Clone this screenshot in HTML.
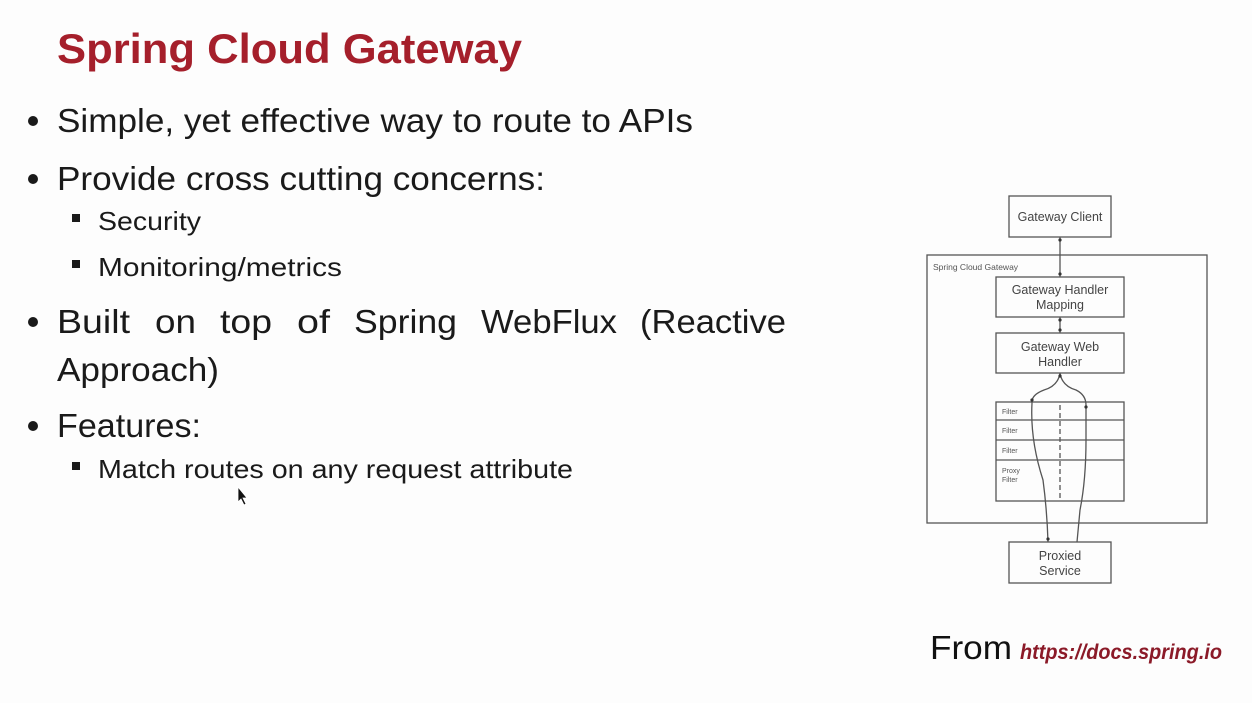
<!DOCTYPE html>
<html><head><meta charset="utf-8"><style>
html,body{margin:0;padding:0;background:#fdfdfd;}
svg{display:block;}
</style></head><body>
<svg width="1252" height="703" viewBox="0 0 1252 703" xmlns="http://www.w3.org/2000/svg" font-family="Liberation Sans, sans-serif">
<rect width="1252" height="703" fill="#fdfdfd"/>
<text x="57" y="63" font-size="42" font-weight="bold" fill="#a51f2b" textLength="465" lengthAdjust="spacingAndGlyphs">Spring Cloud Gateway</text>
<g fill="#1a1a1a" font-size="33">
<circle cx="33" cy="121" r="5"/>
<text x="57" y="132" textLength="636" lengthAdjust="spacingAndGlyphs">Simple, yet effective way to route to APIs</text>
<circle cx="33" cy="179" r="5"/>
<text x="57" y="190" textLength="488" lengthAdjust="spacingAndGlyphs">Provide cross cutting concerns:</text>
<circle cx="33" cy="322" r="5"/>
<text x="57" y="333" textLength="73" lengthAdjust="spacingAndGlyphs">Built</text>
<text x="155" y="333" textLength="41" lengthAdjust="spacingAndGlyphs">on</text>
<text x="220" y="333" textLength="52" lengthAdjust="spacingAndGlyphs">top</text>
<text x="297" y="333" textLength="33" lengthAdjust="spacingAndGlyphs">of</text>
<text x="354" y="333" textLength="103" lengthAdjust="spacingAndGlyphs">Spring</text>
<text x="481" y="333" textLength="136" lengthAdjust="spacingAndGlyphs">WebFlux</text>
<text x="640" y="333" textLength="146" lengthAdjust="spacingAndGlyphs">(Reactive</text>
<text x="57" y="381" textLength="162" lengthAdjust="spacingAndGlyphs">Approach)</text>
<circle cx="33" cy="426" r="5"/>
<text x="57" y="437" textLength="144" lengthAdjust="spacingAndGlyphs">Features:</text>
</g>
<g fill="#1a1a1a" font-size="26">
<rect x="72" y="214" width="8" height="8"/>
<text x="98" y="230" textLength="103" lengthAdjust="spacingAndGlyphs">Security</text>
<rect x="72" y="260" width="8" height="8"/>
<text x="98" y="276" textLength="244" lengthAdjust="spacingAndGlyphs">Monitoring/metrics</text>
<rect x="72" y="462" width="8" height="8"/>
<text x="98" y="478" textLength="475" lengthAdjust="spacingAndGlyphs">Match routes on any request attribute</text>
</g>
<path d="M238 487 L238 502 L241 499 L244 505 L246 504 L243 498 L247 498 Z" fill="#111" stroke="#fff" stroke-width="0.8"/>
<g fill="none" stroke="#555" stroke-width="1.3">
<rect x="1009" y="196" width="102" height="41"/>
<rect x="927" y="255" width="280" height="268"/>
<rect x="996" y="277" width="128" height="40"/>
<rect x="996" y="333" width="128" height="40"/>
<rect x="996" y="402" width="128" height="99"/>
<line x1="996" y1="420" x2="1124" y2="420"/>
<line x1="996" y1="440" x2="1124" y2="440"/>
<line x1="996" y1="460" x2="1124" y2="460"/>
<rect x="1009" y="542" width="102" height="41"/>
<line x1="1060" y1="237" x2="1060" y2="277"/>
<line x1="1060" y1="317" x2="1060" y2="333"/>
<line x1="1060" y1="405" x2="1060" y2="498" stroke-dasharray="5,3"/>
<path d="M1060 373 Q1058 386 1044 390 Q1031 395 1032 403 Q1030 440 1043 480 Q1047 510 1048 542"/>
<path d="M1060 373 Q1062 386 1076 390 Q1086 395 1086 405 L1086 440 Q1086 480 1080 510 L1077 542"/>
</g>
<g fill="#333">
<circle cx="1060" cy="240" r="1.6"/><circle cx="1060" cy="274" r="1.6"/>
<circle cx="1060" cy="320" r="1.6"/><circle cx="1060" cy="330" r="1.6"/>
<circle cx="1032" cy="400" r="1.6"/><circle cx="1086" cy="407" r="1.6"/>
<circle cx="1048" cy="539" r="1.6"/><circle cx="1060" cy="376" r="1.6"/>
</g>
<g fill="#444" font-size="12.5" text-anchor="middle">
<text x="1060" y="221">Gateway Client</text>
<text x="1060" y="294">Gateway Handler</text>
<text x="1060" y="309">Mapping</text>
<text x="1060" y="351">Gateway Web</text>
<text x="1060" y="366">Handler</text>
<text x="1060" y="560">Proxied</text>
<text x="1060" y="575">Service</text>
</g>
<g fill="#555" font-size="7">
<text x="933" y="270" font-size="8.5">Spring Cloud Gateway</text>
<text x="1002" y="414">Filter</text>
<text x="1002" y="433">Filter</text>
<text x="1002" y="453">Filter</text>
<text x="1002" y="473">Proxy</text>
<text x="1002" y="482">Filter</text>
</g>
<text x="930" y="659" font-size="33" fill="#111" textLength="82" lengthAdjust="spacingAndGlyphs">From</text>
<text x="1020" y="659" font-size="21" font-weight="bold" font-style="italic" fill="#8b1a28" textLength="202" lengthAdjust="spacingAndGlyphs">https://docs.spring.io</text>
</svg>
</body></html>
